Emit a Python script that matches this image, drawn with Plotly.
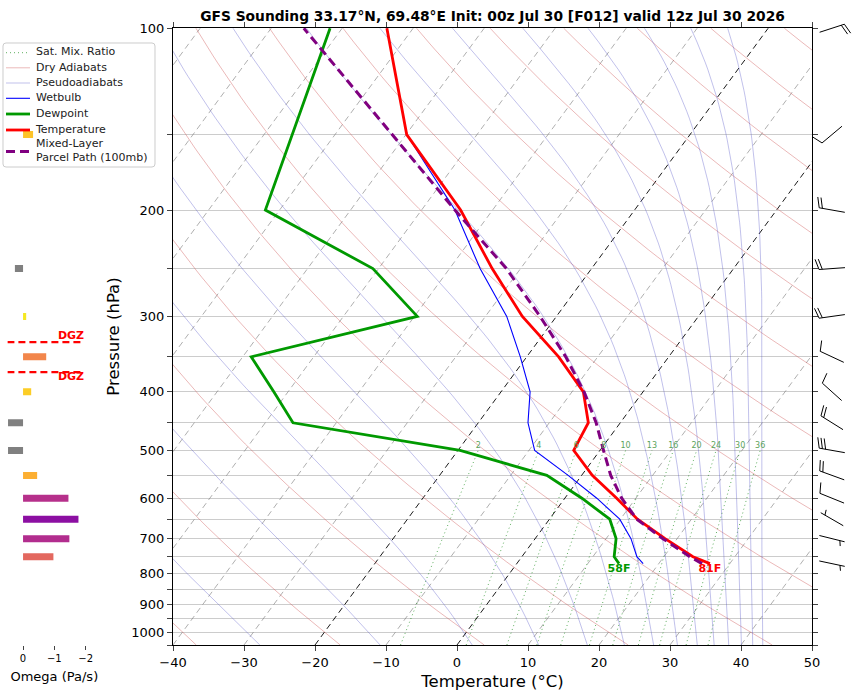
import numpy as np
import plotly.graph_objects as go
from plotly.colors import sample_colorscale

W, H = 852, 695
P_BOT, P_TOP = 1050.0, 100.0
SKEW = 62.5  # degC shift per decade of pressure (skew-T)

# ---- sounding ----
pres = [770, 750, 700, 650, 600, 550, 500, 450, 400, 350, 300, 250, 200, 150, 100]
temp = [27.2, 24.1, 18.3, 12.4, 7.3, 1.5, -3.7, -4.5, -8.4, -15.5, -24.8, -34.0, -44.5, -59.9, -73.7]
dewp = [14.4, 13.0, 11.4, 8.5, 2.4, -4.9, -19.7, -46.1, -52.0, -58.8, -39.6, -50.8, -72.0, -76.0, -81.7]
wetb = [17.8, 16.2, 13.5, 9.9, 4.5, -1.9, -9.2, -13.0, -15.9, -20.9, -27.0, -35.7, -45.3, -59.9, -73.7]
parcel = [26.1, 23.7, 18.0, 12.3, 8.0, 4.1, 0.5, -3.4, -8.3, -14.5, -22.3, -32.0, -45.3, -62.0, -85.4]

# omega (Pa/s)
omega_p = [150, 250, 300, 350, 400, 450, 500, 550, 600, 650, 700, 750]
omega = [-0.32, 0.26, -0.10, -0.74, -0.26, 0.48, 0.48, -0.45, -1.45, -1.77, -1.48, -0.97]

# winds (direction from, knots)
wind_p = [100, 150, 200, 250, 300, 350, 400, 450, 500, 550, 600, 650, 700, 770]
wind_dir = [72, 230, 280, 266, 262, 295, 312, 302, 280, 290, 292, 300, 104, 102]
wind_spd = [20, 10, 20, 20, 20, 10, 10, 20, 30, 20, 10, 5, 5, 5]

# dendritic growth zone bounds (hPa)
dgz_p = [331, 371]

mix_ratios = [2, 4, 6, 8, 10, 13, 16, 20, 24, 30, 36]
dry_t0 = list(range(-40, 241, 20))
thetae_vals = list(range(243, 504, 20))
isotherms = list(range(-110, 51, 10))

title = "GFS Sounding 33.17°N, 69.48°E Init: 00z Jul 30 [F012] valid 12z Jul 30 2026"

# line styles shared by the curves and the legend
S_MIX = dict(color="rgba(0,128,0,0.7)", width=0.9, dash="1px,3px")
S_DRY = dict(color="rgba(205,80,80,0.5)", width=0.8)
S_MOIST = dict(color="rgba(80,80,200,0.45)", width=0.8)
S_WB = dict(color="blue", width=1.1)
S_TD = dict(color="#009900", width=2.8)
S_T = dict(color="red", width=2.8)
S_PCL = dict(color="purple", width=3, dash="9px,5px")


def skew_x(t, p):
    return np.asarray(t, float) + SKEW * np.log10(P_BOT / np.asarray(p, float))


def xdom(a, b):
    return [a / W, b / W]


def ydom(top, bot):
    return [1 - bot / H, 1 - top / H]


MAIN_Y = ydom(28, 645)
LOG_RANGE = [np.log10(P_BOT), np.log10(P_TOP) - 0.0004]
px_per_dec = (645 - 28) / (LOG_RANGE[0] - LOG_RANGE[1])

fig = go.Figure()


def family(curves, **kw):
    xs, ys = [], []
    for x, p in curves:
        xs += list(x) + [None]
        ys += list(p) + [None]
    fig.add_trace(go.Scatter(x=xs, y=ys, mode="lines", hoverinfo="skip", showlegend=False, **kw))


plev = np.logspace(np.log10(P_BOT), np.log10(P_TOP), 90)

# isotherms
family([(skew_x([t, t], [P_BOT, P_TOP]), [P_BOT, P_TOP]) for t in isotherms if t not in (0, -20)],
       line=dict(color="rgba(120,120,120,0.75)", width=0.8, dash="6px,4px"))
family([(skew_x([t, t], [P_BOT, P_TOP]), [P_BOT, P_TOP]) for t in (0, -20)],
       line=dict(color="black", width=0.9, dash="6px,4px"))

# saturation mixing ratio lines
pm = np.logspace(np.log10(P_BOT), np.log10(500), 40)
mix_curves = []
lab_x = []
for w in mix_ratios:
    e = w * pm / (622.0 + w)
    ln = np.log(e / 6.112)
    td = 243.5 * ln / (17.67 - ln)
    mix_curves.append((skew_x(td, pm), pm))
    lab_x.append(skew_x(td[-1], 500))
family(mix_curves, line=S_MIX)

# dry adiabats
family([(skew_x((t0 + 273.15) * (plev / 1000.0) ** 0.2857 - 273.15, plev), plev) for t0 in dry_t0],
       line=S_DRY)

# pseudoadiabats (constant saturated theta-e, Bolton)
tg = np.arange(-140.0, 60.0, 0.05)
moist_T = []
for p in plev:
    es = 6.112 * np.exp(17.67 * tg / (tg + 243.5))
    ok = es < 0.25 * p
    r = 622.0 * es[ok] / (p - es[ok])
    tk = tg[ok] + 273.15
    the = tk * (1000.0 / p) ** (0.2854 * (1 - 0.00028 * r)) * \
        np.exp((3376.0 / tk - 2.54) * 0.001 * r * (1 + 0.00081 * r))
    moist_T.append(np.interp(thetae_vals, the, tg[ok], right=np.nan))
moist_T = np.array(moist_T)
family([(skew_x(moist_T[:, i], plev), plev) for i in range(len(thetae_vals))], line=S_MOIST)

# profiles
for vals, st in ((wetb, S_WB), (dewp, S_TD), (temp, S_T), (parcel, S_PCL)):
    fig.add_trace(go.Scatter(x=skew_x(vals, pres), y=pres, mode="lines", line=st, showlegend=False))

# mixing ratio labels
fig.add_trace(go.Scatter(x=lab_x, y=[500] * len(mix_ratios), mode="text",
                         text=[str(w) for w in mix_ratios], textposition="top center",
                         textfont=dict(size=8, color="#5ba35b"), showlegend=False, hoverinfo="skip"))

# surface T / Td labels
f_t = round(temp[0] * 9 / 5 + 32)
f_d = round(dewp[0] * 9 / 5 + 32)
fig.add_trace(go.Scatter(x=[float(skew_x(temp[0], pres[0])), float(skew_x(dewp[0], pres[0]))],
                         y=[pres[0], pres[0]], mode="text",
                         text=[f"<b>{f_t}F</b>", f"<b>{f_d}F</b>"], textposition="bottom center",
                         textfont=dict(size=11, color=["red", "#009900"]),
                         showlegend=False, hoverinfo="skip"))

# legend box (drawn by hand to keep matplotlib's compact rows); axis x4 spans px 0..157, 40..170
leg_labels = ["Sat. Mix. Ratio", "Dry Adiabats", "Pseudoadiabats", "Wetbulb", "Dewpoint",
              "Temperature", "Mixed-Layer<br>Parcel Path (100mb)"]
leg_styles = [S_MIX, S_DRY, S_MOIST, S_WB, S_TD, S_T, S_PCL]
leg_rows = [52.7, 67.8, 83.0, 98.3, 114.0, 130.0, 151.5]
for y, st in zip(leg_rows, leg_styles):
    fig.add_trace(go.Scatter(x=[6, 30], y=[y, y], mode="lines", line=st, xaxis="x4", yaxis="y4",
                             showlegend=False, hoverinfo="skip"))
fig.add_trace(go.Scatter(x=[36] * len(leg_rows), y=leg_rows, mode="text", text=leg_labels,
                         textposition="middle right", textfont=dict(size=11, color="#222222"),
                         xaxis="x4", yaxis="y4", showlegend=False, hoverinfo="skip"))


def pp(x, y):
    return f"{x / W:.5f},{1 - y / H:.5f}"


fig.add_shape(type="path", xref="paper", yref="paper", layer="below",
              path=f"M {pp(6, 43)} L {pp(152, 43)} Q {pp(155, 43)} {pp(155, 46)} L {pp(155, 164)} "
                   f"Q {pp(155, 167)} {pp(152, 167)} L {pp(6, 167)} Q {pp(3, 167)} {pp(3, 164)} "
                   f"L {pp(3, 46)} Q {pp(3, 43)} {pp(6, 43)} Z",
              line=dict(color="#cccccc", width=1), fillcolor="rgba(255,255,255,0.8)")

# omega bars
for p, w in zip(omega_p, omega):
    col = "grey" if w > 0 else sample_colorscale("Plasma", [(w + 2.5) / 2.5])[0]
    fig.add_trace(go.Scatter(x=[0, w], y=[p, p], mode="lines", xaxis="x2", yaxis="y2",
                             line=dict(color=col, width=7), showlegend=False, hoverinfo="skip"))

# DGZ lines and labels
for p in dgz_p:
    fig.add_trace(go.Scatter(x=[0.5, -1.9], y=[p, p], mode="lines", xaxis="x2", yaxis="y2",
                             line=dict(color="red", width=2.2, dash="7px,4px"),
                             showlegend=False, hoverinfo="skip"))
fig.add_trace(go.Scatter(x=[-1.95, -1.95], y=dgz_p, mode="text", xaxis="x2", yaxis="y2",
                         text=["<b>DGZ</b>", "<b>DGZ</b>"], textposition=["top left", "bottom left"],
                         textfont=dict(size=11, color="red"), showlegend=False, hoverinfo="skip"))

# wind barbs (matplotlib-style geometry, length in px)
BL = 26.0
bx, by = [], []
for p0, wd, sp in zip(wind_p, wind_dir, wind_spd):
    th = np.radians(wd)
    d = np.array([np.sin(th), np.cos(th)])
    n = np.array([np.cos(th), -np.sin(th)])

    def pt(v):
        return 20 + v[0], p0 * 10 ** (-v[1] / px_per_dec)

    def seg(a, b):
        for v in (a, b):
            x, y = pt(v)
            bx.append(x)
            by.append(y)
        bx.append(None)
        by.append(None)

    seg(-d * BL / 2, d * BL / 2)
    full, half = sp // 10, (sp % 10) >= 5
    off = BL
    for i in range(full):
        a = d * (off - BL / 2)
        seg(a, a + n * 0.4 * BL + d * 0.125 * BL)
        off -= 0.125 * BL
    if half:
        if off == BL:
            off -= 1.5 * 0.125 * BL
        a = d * (off - BL / 2)
        seg(a, a + n * 0.2 * BL + d * 0.0625 * BL)

fig.add_trace(go.Scatter(x=bx, y=by, mode="lines", xaxis="x3", yaxis="y3",
                         line=dict(color="black", width=1), showlegend=False, hoverinfo="skip"))

ptick = list(range(100, 1051, 50))
tfont = dict(family="DejaVu Sans", size=13, color="black")
barb_top, barb_bot = 5, 670
fig.update_layout(
    width=W, height=H, margin=dict(l=0, r=0, t=0, b=0, autoexpand=False),
    plot_bgcolor="rgba(0,0,0,0)", paper_bgcolor="white",
    font=dict(family="DejaVu Sans", color="black"),
    title=dict(text=f"<b>{title}</b>", x=492.5 / W, xanchor="center", y=1 - 16 / H, yanchor="middle",
               font=dict(size=13.8)),
    xaxis=dict(domain=xdom(173, 812), range=[-40, 50], anchor="y", tickvals=list(range(-40, 51, 10)),
               ticks="outside", ticklen=5, showline=True, linecolor="black", mirror="ticks",
               showgrid=False, zeroline=False, tickfont=tfont, automargin=False,
               title=dict(text="Temperature (°C)", font=dict(size=16.5), standoff=6)),
    yaxis=dict(domain=MAIN_Y, type="log", range=LOG_RANGE, anchor="x", tickvals=ptick,
               ticktext=[str(p) if p % 100 == 0 and p <= 1000 else "" for p in ptick],
               ticks="outside", ticklen=5, showline=True, linecolor="black", mirror="ticks",
               showgrid=True, gridcolor="#cccccc", gridwidth=1, zeroline=False, tickfont=tfont,
               automargin=False,
               title=dict(text="Pressure (hPa)", font=dict(size=16.5), standoff=7)),
    xaxis2=dict(domain=xdom(7.4, 101.3), range=[0.5, -2.5], anchor="y2", tickvals=[0, -1, -2],
                ticks="outside", ticklen=4, showline=False, showgrid=False, zeroline=False,
                tickfont=dict(size=10), automargin=False,
                title=dict(text="Omega (Pa/s)", font=dict(size=13), standoff=8)),
    yaxis2=dict(domain=MAIN_Y, type="log", range=LOG_RANGE, anchor="x2", visible=False),
    xaxis3=dict(domain=xdom(812, 852), range=[0, 40], anchor="y3", visible=False),
    yaxis3=dict(domain=ydom(barb_top, barb_bot), type="log",
                range=[LOG_RANGE[0] + (barb_bot - 645) / px_per_dec,
                       LOG_RANGE[1] - (28 - barb_top) / px_per_dec],
                anchor="x3", visible=False),
    xaxis4=dict(domain=xdom(0, 157), range=[0, 157], anchor="y4", visible=False),
    yaxis4=dict(domain=ydom(40, 170), range=[170, 40], anchor="x4", visible=False),
    showlegend=False,
)

fig.write_html("out.html", config={"displayModeBar": False},
               post_script="document.body.style.margin='0px';")
